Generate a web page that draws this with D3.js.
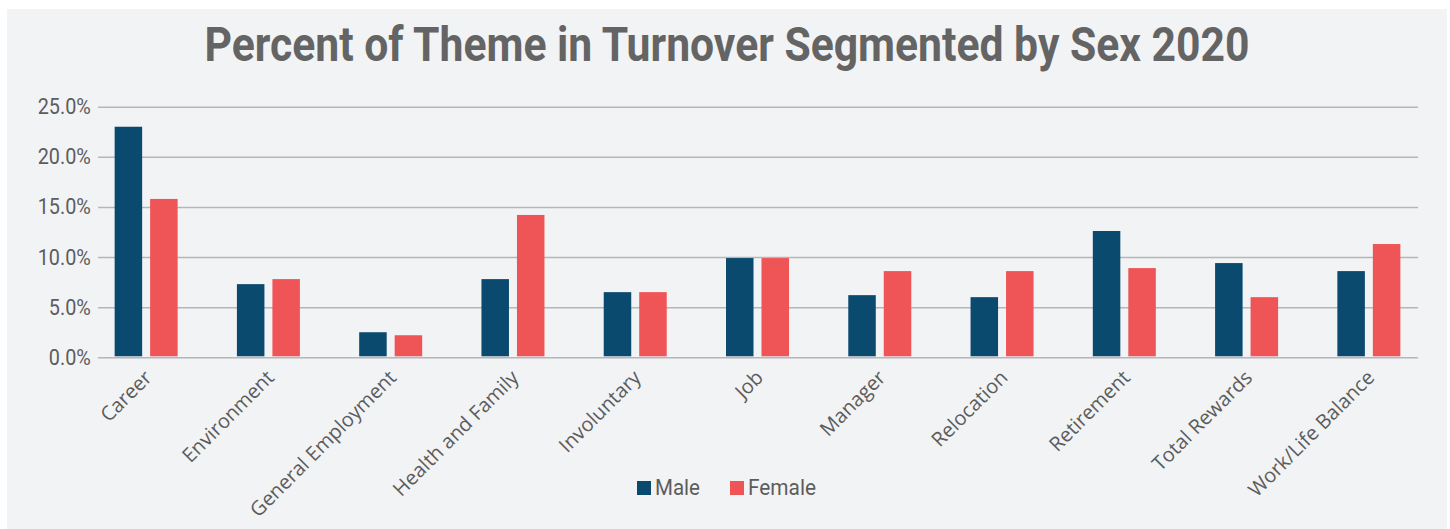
<!DOCTYPE html>
<html>
<head>
<meta charset="utf-8">
<script src="https://cdn.jsdelivr.net/npm/d3@7"></script>
<style>
  body { margin: 0; background: #ffffff; }
  svg { display: block; }
</style>
</head>
<body>
<div id="chart"></div>
<script>
// themes on the x axis
var categories = ["Career", "Environment", "General Employment", "Health and Family",
  "Involuntary", "Job", "Manager", "Relocation", "Retirement", "Total Rewards", "Work/Life Balance"];
var series = ["Male", "Female"];
// percent values
var maleValues   = [23.0, 7.3, 2.5, 7.8, 6.5, 9.9, 6.2, 6.0, 12.6, 9.4, 8.6];
var femaleValues = [15.8, 7.8, 2.2, 14.2, 6.5, 9.9, 8.6, 8.6, 8.9, 6.0, 11.3];
var yTicks = [0, 5, 10, 15, 20, 25];
var colors = { Male: "#0b4a6f", Female: "#ef5556" };

var W = 1450, H = 529;
var svg = d3.select("#chart").append("svg").attr("width", W).attr("height", H);

svg.append("rect").attr("x", 7).attr("y", 9).attr("width", 1440).attr("height", 520)
  .attr("fill", "#f2f3f5");

// title
svg.append("text")
  .attr("x", 727).attr("y", 61)
  .attr("text-anchor", "middle")
  .attr("font-family", "Roboto, sans-serif")
  .attr("font-weight", "bold")
  .attr("font-size", 48)
  .attr("textLength", 1045)
  .attr("lengthAdjust", "spacingAndGlyphs")
  .attr("fill", "#646464")
  .text("Percent of Theme in Turnover Segmented by Sex 2020");

var gridLeft = 98, gridRight = 1418;
var y = d3.scaleLinear().domain([0, 25]).range([357.3, 106.7]);
var x = d3.scaleBand().domain(categories).range([85, 1430]).padding(0);
var xInner = d3.scaleBand().domain(series).range([0, x.bandwidth()])
  .paddingInner(0.225).paddingOuter(0.835);

// y axis with gridlines
var yAxis = svg.append("g")
  .attr("transform", "translate(" + gridLeft + ",0)")
  .call(d3.axisLeft(y).tickValues(yTicks).tickSize(-(gridRight - gridLeft)).tickPadding(8)
    .tickFormat(function(d) { return d3.format(".1f")(d) + "%"; }));
yAxis.select(".domain").remove();
yAxis.selectAll(".tick line").attr("stroke", "#b4b6b9").attr("stroke-width", 1.6);
yAxis.selectAll(".tick text")
  .attr("font-family", "Roboto, sans-serif")
  .attr("font-size", 22)
  .attr("fill", "#5c5c5c")
  .attr("transform", "scale(0.9,1)");

// bars
var rows = categories.map(function(c, i) {
  return { cat: c, vals: [{ s: "Male", v: maleValues[i] }, { s: "Female", v: femaleValues[i] }] };
});

var groups = svg.append("g").selectAll("g")
  .data(rows).enter().append("g")
  .attr("transform", function(d) { return "translate(" + x(d.cat) + ",0)"; });

groups.selectAll("rect")
  .data(function(d) { return d.vals; })
  .enter().append("rect")
  .attr("x", function(d) { return xInner(d.s); })
  .attr("width", xInner.bandwidth())
  .attr("y", function(d) { return y(d.v); })
  .attr("height", function(d) { return y(0) - y(d.v) - 1; })
  .attr("fill", function(d) { return colors[d.s]; });

// x labels
svg.append("g").selectAll("text")
  .data(categories).enter().append("text")
  .attr("transform", function(d) {
    return "translate(" + (x(d) + x.bandwidth() / 2 - 3) + ",369) rotate(-45)";
  })
  .attr("text-anchor", "end")
  .attr("dy", "0.7em")
  .attr("font-family", "'Open Sans', sans-serif")
  .attr("font-size", 20)
  .attr("fill", "#5c5c5c")
  .text(function(d) { return d; });

// legend
var legendItems = [{ s: "Male", x: 637, w: 45 }, { s: "Female", x: 730, w: 68 }];
var legend = svg.append("g").selectAll("g")
  .data(legendItems).enter().append("g")
  .attr("transform", function(d) { return "translate(" + d.x + ",481)"; });
legend.append("rect").attr("width", 14).attr("height", 14)
  .attr("fill", function(d) { return colors[d.s]; });
legend.append("text")
  .attr("x", 18).attr("y", 14)
  .attr("font-family", "Roboto, sans-serif")
  .attr("font-size", 22)
  .attr("textLength", function(d) { return d.w; })
  .attr("lengthAdjust", "spacingAndGlyphs")
  .attr("fill", "#5c5c5c")
  .text(function(d) { return d.s; });
</script>
</body>
</html>
